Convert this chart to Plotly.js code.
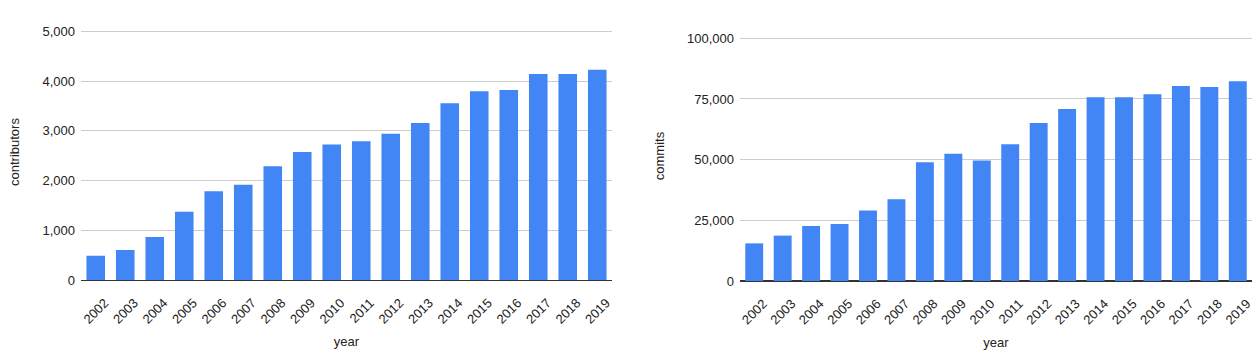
<!DOCTYPE html>
<html><head><meta charset="utf-8">
<script src="https://cdn.plot.ly/plotly-3.0.1.min.js"></script>
<style>html,body{margin:0;padding:0;background:#fff}#c{width:1255px;height:362px}</style>
</head><body><div id="c"></div>
<script>
const years = ["2002","2003","2004","2005","2006","2007","2008","2009","2010","2011","2012","2013","2014","2015","2016","2017","2018","2019"];
const contributors = [495, 610, 870, 1375, 1790, 1920, 2290, 2575, 2725, 2790, 2945, 3160, 3555, 3795, 3820, 4145, 4145, 4230];
const commits = [15500, 18700, 22650, 23500, 29100, 33650, 48900, 52450, 49700, 56300, 65100, 70850, 75700, 75700, 76900, 80350, 79950, 82300];

const W = 1255, H = 362;
const font = {family: "Liberation Sans, Arial, sans-serif", size: 13, color: "#222"};
const blue = "#4285F4";

const data = [
  {type: "bar", x: years, y: contributors, xaxis: "x", yaxis: "y", marker: {color: blue}, hoverinfo: "x+y"},
  {type: "bar", x: years, y: commits, xaxis: "x2", yaxis: "y2", marker: {color: blue}, hoverinfo: "x+y"}
];

function xa(d0, d1, anchor) {
  return {domain: [d0 / W, d1 / W], anchor: anchor, type: "category", tickangle: -45,
    showgrid: false, showline: true, linecolor: "#333", linewidth: 1, ticks: "",
    ticklabelstandoff: 9, ticklabelshift: 9,
    tickfont: font, title: {text: "year", font: font, standoff: 11}, automargin: false, fixedrange: true};
}
// top pixel corresponds to the last gridline value; pad range so that gridline is drawn
function ya(top, bottom, max, dtick, anchor, title) {
  const pad = 0.03;
  const pxPerUnit = (bottom - top) / max;
  const topPx = top - max * pad * pxPerUnit;
  return {domain: [(H - bottom) / H, (H - topPx) / H], anchor: anchor, range: [0, max * (1 + pad)], dtick: dtick,
    tickformat: ",d", showgrid: true, gridcolor: "#cccccc", gridwidth: 1, zeroline: true,
    zerolinecolor: "#333", zerolinewidth: 1, showline: false, ticks: "", ticklen: 0,
    ticklabelstandoff: 5,
    tickfont: font, title: {text: title, font: font, standoff: 19}, automargin: false, fixedrange: true};
}

const layout = {
  width: W, height: H, margin: {l: 0, r: 0, t: 0, b: 0},
  paper_bgcolor: "#fff", plot_bgcolor: "#fff", showlegend: false,
  bargap: 0.37, font: font, separators: ".,",
  xaxis: xa(81, 612, "y"),
  yaxis: ya(31.3, 280.3, 5000, 1000, "x", "contributors"),
  xaxis2: xa(740, 1252, "y2"),
  yaxis2: ya(38.3, 281, 100000, 25000, "x2", "commits")
};

Plotly.newPlot("c", data, layout, {displayModeBar: false, staticPlot: true});
</script></body></html>
